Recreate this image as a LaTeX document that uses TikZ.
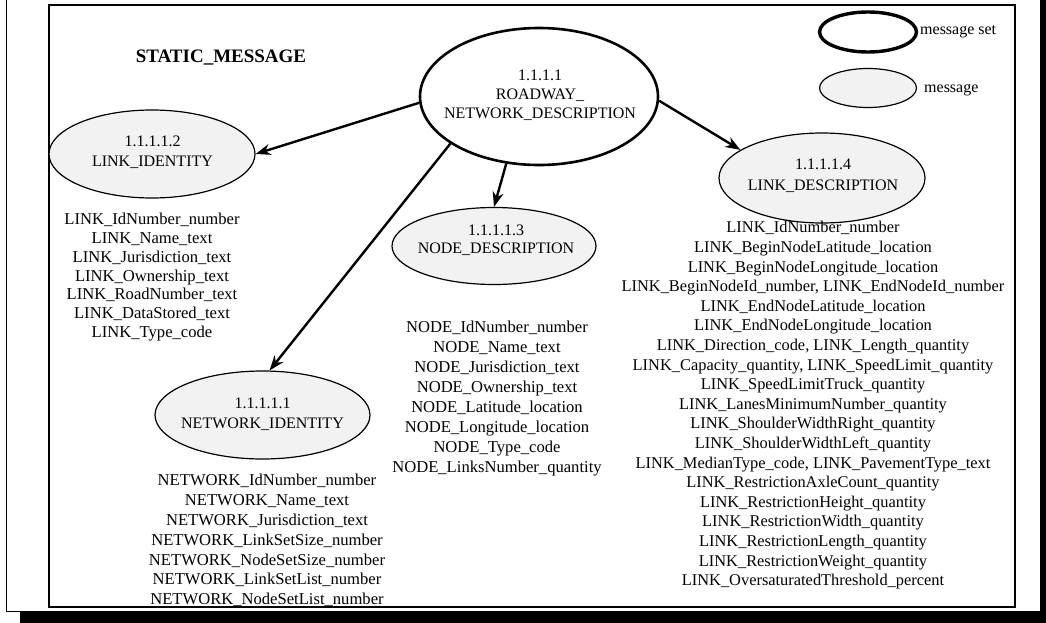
\documentclass[tikz,border=0pt]{standalone}
\usepackage{fontspec}
\setmainfont{Liberation Serif}
\usetikzlibrary{shapes.geometric,arrows.meta}
\begin{document}
\begin{tikzpicture}[x=1pt,y=-1pt,
  setell/.style={ellipse, draw, line width=2.6pt, inner sep=0pt},
  msgell/.style={ellipse, draw, line width=1.2pt, fill=black!5, inner sep=0pt},
  lbl/.style={align=center, inner sep=0pt},
  attrs/.style={align=center, inner sep=0pt, anchor=north},
  arr/.style={line width=2.4pt, -{Stealth[length=15pt,width=11pt]}},
  legtext/.style={anchor=west, inner sep=0pt},
  every node/.style={font=\fontsize{16}{19}\selectfont}
]
\useasboundingbox (0,0) rectangle (1046,623);

% page frame with drop shadow
\fill[black] (20,0) rectangle (1046,623);
\filldraw[fill=white, draw=black, line width=1pt] (6,-2) rectangle (1040,611);
\draw[line width=1.5pt] (49,5) rectangle (1015,607);

% title
\node[font=\fontsize{19}{22}\selectfont\bfseries] (title) at (221,58) {STATIC\_MESSAGE};

% legend
\node[setell, line width=3.4pt, minimum width=97pt, minimum height=40pt] (legset) at (868,32) {};
\node[legtext] (legsettxt) at (920,32) {message set};
\node[msgell, minimum width=97pt, minimum height=39pt] (legmsg) at (868,88) {};
\node[legtext] (legmsgtxt) at (924,90) {message};

% message set and messages
\node[setell, minimum width=238pt, minimum height=137pt] (rd) at (539,96.5) {};
\node[lbl, font=\fontsize{16}{19}\selectfont] (rdtxt) at (540,95) {1.1.1.1\\ROADWAY\_\\NETWORK\_DESCRIPTION};

\node[msgell, minimum width=206pt, minimum height=88pt] (li) at (152,154) {};
\node[lbl, font=\fontsize{16}{20}\selectfont] (litxt) at (152.5,152) {1.1.1.1.2\\LINK\_IDENTITY};

\node[msgell, minimum width=206pt, minimum height=90pt] (ld) at (822,178) {};
\node[lbl, font=\fontsize{16}{21}\selectfont] (ldtxt) at (823,175.5) {1.1.1.1.4\\LINK\_DESCRIPTION};

\node[msgell, minimum width=204pt, minimum height=77pt] (nd) at (494,246) {};
\node[lbl, font=\fontsize{16}{18}\selectfont] (ndtxt) at (496,240) {1.1.1.1.3\\NODE\_DESCRIPTION};

\node[msgell, minimum width=215pt, minimum height=88pt] (ni) at (262.5,415) {};
\node[lbl, font=\fontsize{16}{20}\selectfont] (nitxt) at (262.5,414) {1.1.1.1.1\\NETWORK\_IDENTITY};

% connectors
\draw[arr] (rd.183) -- (li.east);
\draw[arr] (rd.358) -- (ld.161);
\draw[arr] (rd.244) -- (nd.north);
\draw[arr] (rd.208) -- (ni.81);

% attribute lists
\node[attrs, font=\fontsize{16.6}{18.7}\selectfont] (liattr) at (152,213.2) {%
LINK\_IdNumber\_number\\
LINK\_Name\_text\\
LINK\_Jurisdiction\_text\\
LINK\_Ownership\_text\\
LINK\_RoadNumber\_text\\
LINK\_DataStored\_text\\
LINK\_Type\_code};

\node[attrs, font=\fontsize{16.6}{20}\selectfont] (ndattr) at (497,321.2) {%
NODE\_IdNumber\_number\\
NODE\_Name\_text\\
NODE\_Jurisdiction\_text\\
NODE\_Ownership\_text\\
NODE\_Latitude\_location\\
NODE\_Longitude\_location\\
NODE\_Type\_code\\
NODE\_LinksNumber\_quantity};

\node[attrs, font=\fontsize{16.6}{19.8}\selectfont] (niattr) at (267,474.2) {%
NETWORK\_IdNumber\_number\\
NETWORK\_Name\_text\\
NETWORK\_Jurisdiction\_text\\
NETWORK\_LinkSetSize\_number\\
NETWORK\_NodeSetSize\_number\\
NETWORK\_LinkSetList\_number\\
NETWORK\_NodeSetList\_number};

\node[attrs, font=\fontsize{16.4}{19.6}\selectfont] (ldattr) at (813,221.3) {%
LINK\_IdNumber\_number\\
LINK\_BeginNodeLatitude\_location\\
LINK\_BeginNodeLongitude\_location\\
LINK\_BeginNodeId\_number, LINK\_EndNodeId\_number\\
LINK\_EndNodeLatitude\_location\\
LINK\_EndNodeLongitude\_location\\
LINK\_Direction\_code, LINK\_Length\_quantity\\
LINK\_Capacity\_quantity, LINK\_SpeedLimit\_quantity\\
LINK\_SpeedLimitTruck\_quantity\\
LINK\_LanesMinimumNumber\_quantity\\
LINK\_ShoulderWidthRight\_quantity\\
LINK\_ShoulderWidthLeft\_quantity\\
LINK\_MedianType\_code, LINK\_PavementType\_text\\
LINK\_RestrictionAxleCount\_quantity\\
LINK\_RestrictionHeight\_quantity\\
LINK\_RestrictionWidth\_quantity\\
LINK\_RestrictionLength\_quantity\\
LINK\_RestrictionWeight\_quantity\\
LINK\_OversaturatedThreshold\_percent};
\end{tikzpicture}
\end{document}
